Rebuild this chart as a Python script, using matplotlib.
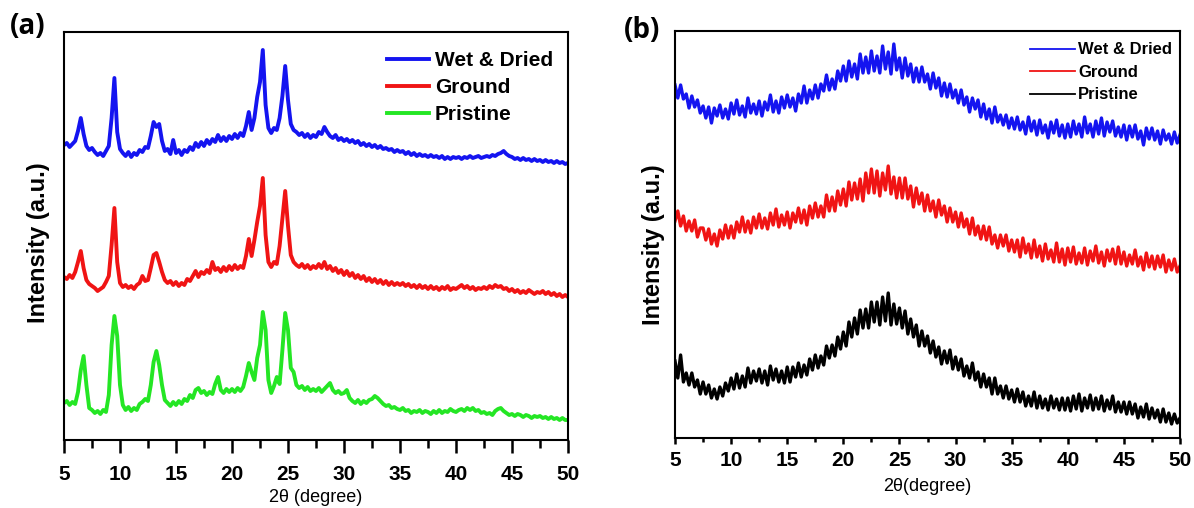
import numpy as np
import matplotlib
matplotlib.use('Agg')
import matplotlib.pyplot as plt
from matplotlib.ticker import MultipleLocator

plt.rcParams['font.family'] = ['Liberation Sans', 'DejaVu Sans']

# scan angles (2theta, degrees), 0.25 deg step
two_theta = np.arange(5, 50.001, 0.25)

# (a) intensities, arbitrary units
wet_dried_a = [
    295, 297, 293, 296, 299, 309, 322, 306, 294, 290,
    292, 288, 285, 287, 284, 289, 294, 322, 362, 308,
    291, 287, 284, 288, 283, 287, 285, 290, 288, 293,
    292, 304, 318, 313, 316, 299, 289, 291, 286, 300,
    287, 290, 285, 290, 288, 293, 290, 297, 293, 298,
    294, 300, 296, 301, 298, 305, 299, 303, 299, 304,
    301, 306, 302, 307, 304, 314, 328, 310, 322, 343,
    358, 390, 335, 312, 307, 312, 310, 322, 344, 374,
    340, 316, 310, 308, 305, 307, 303, 306, 302, 305,
    303, 308, 306, 313, 308, 304, 302, 305, 300, 302,
    299, 301, 298, 300, 297, 299, 295, 297, 294, 296,
    293, 295, 292, 294, 291, 292, 290, 291, 288, 290,
    288, 289, 286, 288, 285, 287, 284, 286, 284, 285,
    283, 285, 283, 284, 282, 284, 281, 283, 281, 283,
    282, 283, 281, 283, 282, 284, 282, 283, 284, 282,
    283, 284, 283, 285, 284, 286, 287, 289, 286, 284,
    283, 281, 282, 280, 282, 280, 281, 279, 281, 279,
    280, 278, 280, 278, 279, 277, 279, 277, 278, 276,
    277]
ground_a = [
    163, 161, 165, 162, 168, 178, 189, 172, 160, 156,
    154, 152, 149, 151, 153, 158, 164, 195, 232, 178,
    157, 153, 155, 152, 154, 151, 155, 157, 164, 159,
    160, 172, 185, 187, 178, 168, 160, 157, 159, 155,
    158, 154, 157, 155, 161, 159, 164, 169, 163, 168,
    166, 170, 167, 178, 170, 172, 168, 173, 169, 174,
    170, 175, 171, 174, 172, 184, 201, 184, 200, 218,
    234, 262, 205, 178, 173, 178, 176, 194, 222, 249,
    214, 185, 178, 175, 173, 176, 172, 175, 171, 174,
    172, 176, 172, 178, 171, 174, 169, 172, 167, 170,
    165, 169, 164, 167, 162, 165, 161, 164, 159, 162,
    158, 161, 157, 160, 156, 159, 155, 158, 155, 157,
    155, 157, 154, 156, 153, 155, 152, 155, 152, 154,
    151, 154, 151, 153, 150, 153, 151, 154, 150, 152,
    151, 153, 155, 152, 154, 151, 153, 150, 152, 151,
    153, 151, 154, 152, 155, 153, 154, 151, 152, 149,
    151, 148, 150, 147, 149, 147, 150, 148, 146, 148,
    147, 149, 146, 148, 145, 147, 144, 146, 143, 145,
    143]
pristine_a = [
    37, 39, 35, 38, 36, 48, 70, 84, 55, 32,
    30, 27, 29, 26, 30, 28, 45, 95, 124, 104,
    55, 35, 30, 33, 29, 32, 30, 36, 38, 41,
    39, 55, 78, 89, 75, 55, 40, 37, 34, 38,
    35, 39, 36, 41, 39, 45, 42, 50, 52, 47,
    49, 45, 48, 46, 56, 63, 50, 47, 51, 48,
    51, 48, 52, 49, 53, 64, 77, 68, 60, 82,
    95, 128, 110, 60, 47, 54, 63, 56, 90, 127,
    110, 72, 68, 55, 52, 54, 50, 53, 49, 51,
    49, 52, 48, 51, 54, 57, 50, 47, 49, 46,
    47, 50, 42, 39, 37, 40, 36, 39, 37, 40,
    41, 44, 42, 39, 36, 34, 35, 32, 33, 31,
    30, 32, 29, 30, 27, 29, 28, 30, 27, 29,
    28, 26, 29, 27, 30, 27, 29, 28, 31, 29,
    28, 30, 31, 29, 32, 30, 32, 29, 30, 27,
    28, 26, 27, 25, 29, 31, 32, 29, 27, 25,
    26, 24, 26, 25, 23, 25, 24, 22, 24, 23,
    24, 22, 23, 21, 23, 21, 22, 20, 22, 20,
    20]

# (b) intensities, arbitrary units
wet_dried_b = [
    353, 340, 353, 339, 344, 330, 342, 331, 338, 325,
    332, 320, 331, 315, 330, 322, 333, 320, 329, 319,
    335, 324, 338, 323, 332, 321, 340, 325, 334, 324,
    337, 322, 336, 328, 343, 326, 337, 325, 341, 330,
    343, 331, 340, 327, 344, 335, 352, 335, 348, 339,
    353, 340, 354, 347, 363, 348, 359, 349, 367, 357,
    372, 357, 377, 361, 374, 359, 384, 365, 381, 365,
    387, 367, 382, 365, 392, 369, 386, 364, 394, 368,
    380, 360, 380, 362, 374, 356, 370, 356, 371, 356,
    364, 349, 365, 350, 360, 342, 355, 341, 354, 340,
    348, 335, 348, 333, 341, 326, 340, 329, 338, 321,
    334, 319, 329, 315, 331, 316, 323, 313, 323, 310,
    320, 309, 321, 308, 316, 304, 321, 307, 317, 303,
    318, 305, 313, 300, 316, 305, 318, 302, 313, 300,
    314, 301, 317, 304, 314, 301, 321, 305, 314, 301,
    317, 304, 320, 302, 316, 306, 317, 302, 311, 301,
    313, 298, 312, 301, 313, 299, 307, 293, 310, 299,
    310, 298, 307, 294, 308, 298, 304, 294, 306, 295,
    303]
ground_b = [
    217, 227, 212, 222, 207, 217, 207, 218, 201, 210,
    210, 198, 209, 194, 204, 192, 208, 199, 213, 200,
    212, 200, 216, 206, 221, 206, 217, 205, 221, 210,
    224, 210, 220, 209, 225, 213, 229, 211, 223, 213,
    226, 210, 225, 216, 230, 215, 228, 213, 232, 220,
    235, 221, 232, 221, 243, 227, 241, 227, 247, 233,
    249, 232, 256, 238, 255, 239, 259, 237, 265, 245,
    269, 245, 267, 242, 265, 248, 272, 244, 261, 240,
    260, 240, 260, 239, 252, 231, 250, 234, 245, 227,
    243, 227, 237, 221, 238, 223, 232, 216, 230, 216,
    226, 211, 225, 211, 219, 204, 220, 203, 212, 199,
    212, 198, 211, 194, 203, 190, 203, 192, 203, 187,
    198, 186, 198, 181, 200, 185, 194, 180, 198, 181,
    192, 177, 194, 179, 188, 176, 195, 176, 189, 173,
    190, 176, 191, 174, 185, 175, 190, 173, 187, 177,
    192, 175, 186, 172, 188, 177, 189, 174, 191, 174,
    186, 172, 183, 174, 188, 172, 181, 168, 185, 171,
    182, 169, 182, 171, 183, 166, 178, 168, 179, 166,
    172]
pristine_b = [
    77, 60, 83, 56, 65, 53, 65, 51, 58, 44,
    56, 44, 53, 40, 49, 39, 51, 42, 55, 47,
    60, 49, 64, 50, 62, 51, 70, 55, 67, 57,
    69, 55, 67, 53, 72, 58, 69, 56, 67, 55,
    71, 56, 71, 61, 75, 61, 73, 63, 79, 68,
    83, 70, 82, 73, 92, 80, 93, 82, 101, 89,
    106, 92, 116, 101, 120, 104, 128, 110, 129, 110,
    136, 116, 136, 113, 141, 117, 145, 113, 134, 114,
    130, 110, 127, 104, 119, 101, 113, 92, 107, 92,
    102, 85, 97, 81, 91, 74, 87, 75, 88, 69,
    81, 68, 79, 62, 72, 60, 75, 58, 66, 51,
    64, 51, 60, 44, 60, 44, 52, 40, 52, 39,
    48, 36, 49, 36, 46, 32, 42, 32, 46, 30,
    42, 30, 39, 28, 42, 30, 39, 28, 40, 28,
    40, 27, 42, 29, 44, 27, 40, 30, 43, 28,
    40, 29, 42, 27, 38, 29, 42, 26, 36, 26,
    36, 24, 36, 24, 34, 20, 31, 21, 34, 19,
    30, 20, 28, 16, 29, 16, 25, 14, 24, 15,
    20]

labels = ['Wet & Dried', 'Ground', 'Pristine']
colors_a = ['#1414f0', '#f01414', '#24e624']
colors_b = ['#1414f0', '#f01414', '#000000']


def style_axes(ax, ymax, xlabel, major_len, minor_len, pad, xlab_y, ylab_xy):
    ax.set_xlim(5, 50)
    ax.set_ylim(0, ymax)
    ax.set_yticks([])
    ax.xaxis.set_major_locator(MultipleLocator(5))
    ax.xaxis.set_minor_locator(MultipleLocator(2.5))
    ax.tick_params(axis='x', which='major', direction='out', length=major_len,
                   width=1.8, labelsize=15, pad=pad)
    ax.tick_params(axis='x', which='minor', direction='out', length=minor_len,
                   width=1.8)
    for lbl in ax.get_xticklabels():
        lbl.set_fontweight('bold')
    for s in ax.spines.values():
        s.set_linewidth(1.5)
    ax.set_xlabel(xlabel, fontsize=13, va='center')
    ax.xaxis.set_label_coords(0.5, xlab_y)
    ax.set_ylabel('Intensity (a.u.)', fontsize=17, fontweight='bold',
                  va='center')
    ax.yaxis.set_label_coords(*ylab_xy)


fig = plt.figure(figsize=(11.94, 5.08), dpi=100)

# panel (a)
ax1 = fig.add_axes([64 / 1194, 1 - 440 / 508, 504 / 1194, 408 / 508])
for ys, c, lab in zip([wet_dried_a, ground_a, pristine_a], colors_a, labels):
    ax1.plot(two_theta, ys, color=c, lw=2.8, label=lab)
style_axes(ax1, 408, '2θ (degree)', 9.4, 5.8, 8.5, -0.14, (-0.05, 0.483))
ax1.legend(loc='upper right', bbox_to_anchor=(0.97, 0.953), frameon=False,
           borderaxespad=0, borderpad=0, handlelength=2.0, handletextpad=0.3,
           labelspacing=0.38, prop={'size': 15, 'weight': 'bold'})

# panel (b)
ax2 = fig.add_axes([675 / 1194, 1 - 438 / 508, 505 / 1194, 407 / 508])
for ys, c, lab in zip([wet_dried_b, ground_b, pristine_b], colors_b, labels):
    ax2.plot(two_theta, ys, color=c, lw=2.4, label=lab)
style_axes(ax2, 407, '2θ(degree)', 4.5, 3, 5, -0.12, (-0.042, 0.475))
leg = ax2.legend(loc='upper right', bbox_to_anchor=(0.984, 0.972),
                 frameon=False, borderaxespad=0, borderpad=0, handlelength=2.7,
                 handletextpad=0.2, labelspacing=0.45,
                 prop={'size': 12, 'weight': 'bold'})
for h in leg.get_lines():
    h.set_linewidth(1.3)

fig.text(28 / 1194, 1 - 27 / 508, '(a)', fontsize=20, ha='center', va='center',
         family=['Open Sans', 'DejaVu Sans'], fontweight='bold')
fig.text(642 / 1194, 1 - 30 / 508, '(b)', fontsize=20, ha='center', va='center',
         family=['Open Sans', 'DejaVu Sans'], fontweight='bold')

fig.savefig('out.png', dpi=100)
